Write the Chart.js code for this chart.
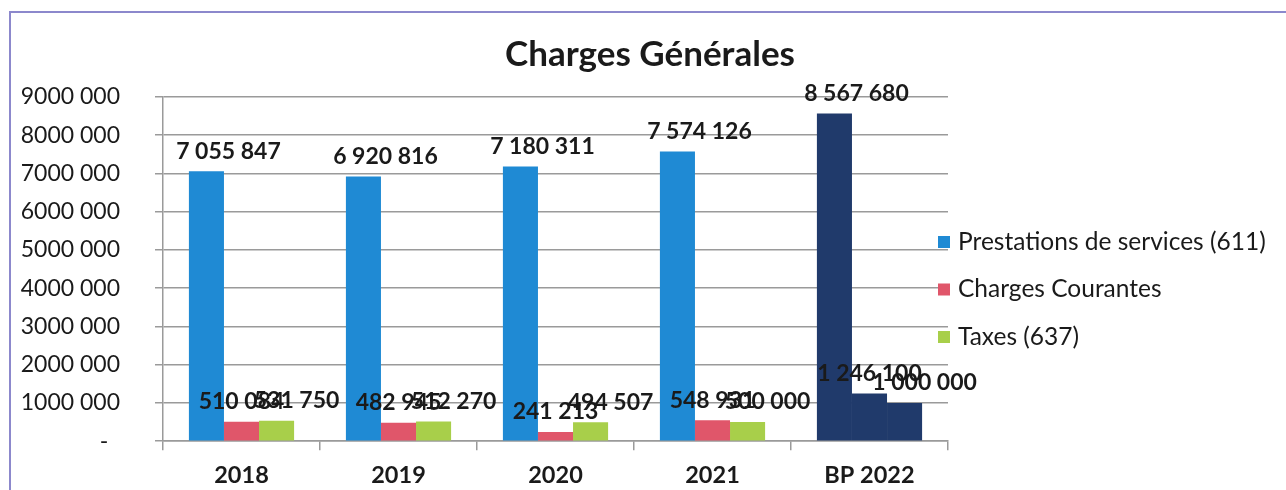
<!DOCTYPE html>
<html>
<head>
<meta charset="utf-8">
<script src="https://cdn.jsdelivr.net/npm/chart.js@4"></script>
<style>
  html, body { margin: 0; padding: 0; background: #fff; }
  #wrap { position: relative; width: 1286px; height: 490px; }
  #frame { position: absolute; left: 9px; top: 11px; right: 0; bottom: 0;
           border-top: 2px solid #8c88cc; border-left: 2px solid #8c88cc; pointer-events: none; }
  canvas { position: absolute; left: 0; top: 0; }
</style>
</head>
<body>
<div id="wrap">
  <canvas id="chart" width="1286" height="490"></canvas>
  <div id="frame"></div>
</div>
<script>
// data
const categories = ['2018', '2019', '2020', '2021', 'BP 2022'];
const prestations = [7055847, 6920816, 7180311, 7574126, 8567680];
const chargesCourantes = [510084, 482945, 241213, 548931, 1246100];
const taxes = [531750, 512270, 494507, 500000, 1000000];
const seriesNames = ['Prestations de services (611)', 'Charges Courantes', 'Taxes (637)'];
const yTickLabels = ['-  ', '1000 000', '2000 000', '3000 000', '4000 000', '5000 000',
                     '6000 000', '7000 000', '8000 000', '9000 000'];

const blue = '#1f8ad4', red = '#e0566a', green = '#a8cf4a', navy = '#203a6b';
const colorsFor = c => categories.map(cat => cat === 'BP 2022' ? navy : c);

function fmt(v) {
  return String(v).replace(/\B(?=(\d{3})+(?!\d))/g, ' ');
}

// value labels above bars (Excel style, slightly shifted)
const barLabels = {
  id: 'barLabels',
  afterDatasetsDraw(chart) {
    const ctx = chart.ctx;
    const shift = [22, 0, 20];
    ctx.save();
    ctx.font = 'bold 23px Lato';
    ctx.fillStyle = '#1a1a1a';
    ctx.textAlign = 'center';
    ctx.textBaseline = 'middle';
    chart.data.datasets.forEach((ds, i) => {
      chart.getDatasetMeta(i).data.forEach((bar, j) => {
        ctx.fillText(fmt(ds.data[j]), bar.x + shift[i], bar.y - 20);
      });
    });
    ctx.restore();
  }
};

// legend on the right, drawn over the end of the plot area like in Excel
const sideLegend = {
  id: 'sideLegend',
  afterDraw(chart) {
    const ctx = chart.ctx;
    ctx.save();
    ctx.font = '24.5px Lato';
    ctx.textBaseline = 'middle';
    ctx.textAlign = 'left';
    chart.data.datasets.forEach((ds, i) => {
      const y = 242 + i * 47.5;
      ctx.fillStyle = ds.backgroundColor[0];
      ctx.fillRect(938, y - 6, 12, 12);
      ctx.fillStyle = '#1a1a1a';
      ctx.fillText(ds.label, 958, y);
    });
    ctx.restore();
  }
};

new Chart(document.getElementById('chart'), {
  type: 'bar',
  data: {
    labels: categories,
    datasets: [
      { label: seriesNames[0], data: prestations, backgroundColor: colorsFor(blue) },
      { label: seriesNames[1], data: chargesCourantes, backgroundColor: colorsFor(red) },
      { label: seriesNames[2], data: taxes, backgroundColor: colorsFor(green) }
    ]
  },
  options: {
    responsive: false,
    animation: false,
    devicePixelRatio: 1,
    layout: { padding: { left: 14, right: 0, top: 0, bottom: 0 } },
    datasets: { bar: { categoryPercentage: 0.67, barPercentage: 1 } },
    plugins: {
      legend: { display: false },
      tooltip: { enabled: false },
      title: {
        display: true,
        text: 'Charges Générales',
        color: '#1a1a1a',
        font: { family: 'Lato', size: 35, weight: 'bold' },
        padding: { top: 34, bottom: 21 }
      }
    },
    scales: {
      x: {
        grid: { drawOnChartArea: false, drawTicks: true, tickLength: 9, color: '#9a9a9a', lineWidth: 1.5 },
        border: { color: '#9a9a9a', width: 1.5 },
        ticks: { color: '#1a1a1a', font: { family: 'Lato', size: 23.5, weight: 'bold' }, padding: 11 },
        afterFit: s => { s.height = 47; }
      },
      y: {
        min: 0, max: 9000000,
        grid: { color: '#9a9a9a', lineWidth: 1.5, tickLength: 8 },
        border: { color: '#9a9a9a', width: 1.5 },
        ticks: {
          stepSize: 1000000,
          color: '#1a1a1a',
          font: { family: 'Lato', size: 23 },
          padding: 35,
          callback: (v, i) => yTickLabels[i]
        },
        afterFit: s => { s.width = 149; }
      },
      spacer: {
        type: 'linear',
        position: 'right',
        display: true,
        grid: { display: false },
        border: { display: false },
        ticks: { display: false },
        afterFit: s => { s.width = 338; }
      }
    }
  },
  plugins: [barLabels, sideLegend]
});
</script>
</body>
</html>
